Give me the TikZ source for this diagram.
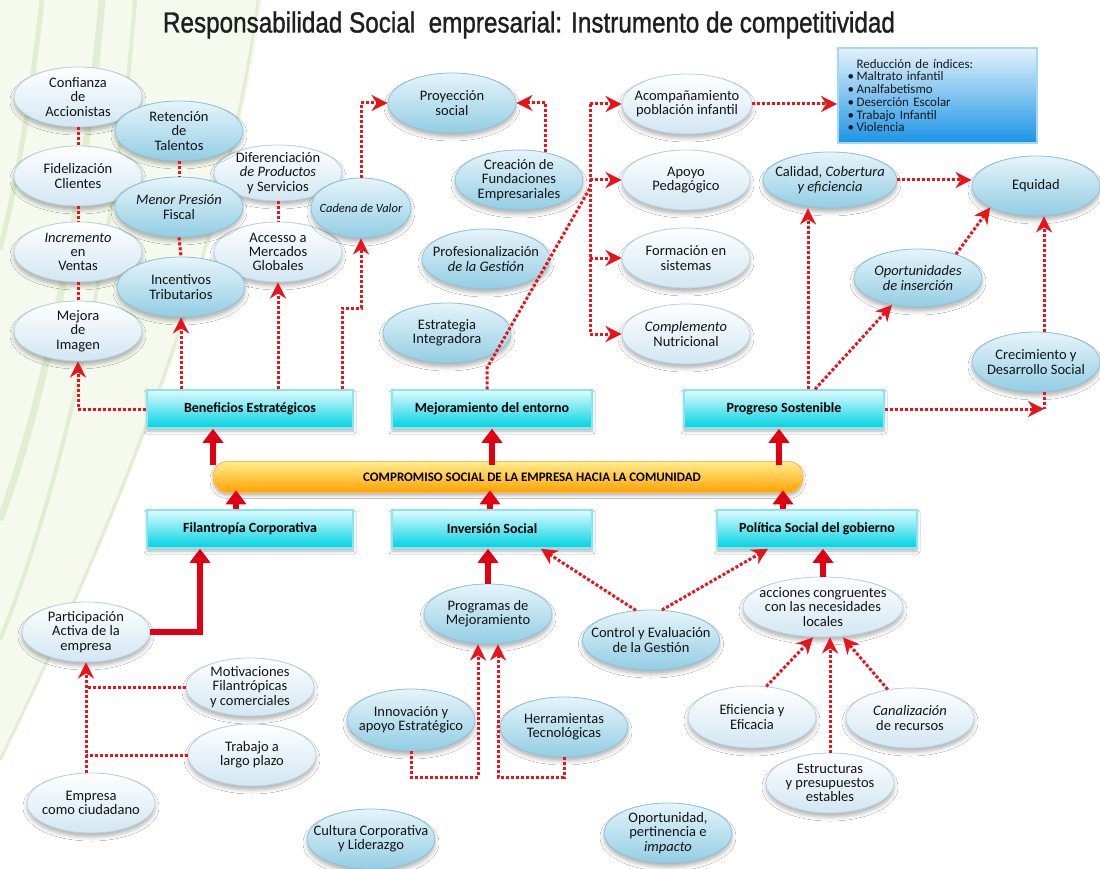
\documentclass[tikz,border=0pt]{standalone}
\usepackage{graphicx}
\usepackage{fontspec}
\setmainfont{Carlito}
\newfontfamily\titlefont[FakeBold=1.2]{Liberation Sans}
\usepackage{tikz}
\usetikzlibrary{arrows.meta,positioning,shapes.geometric,shadows.blur}

\definecolor{dotred}{HTML}{E8141C}
\definecolor{thickred}{HTML}{E00012}
\definecolor{palebot}{HTML}{D2E6F2}
\definecolor{paleedge}{HTML}{B7D4E6}
\definecolor{bluetop}{HTML}{E6F4FA}
\definecolor{bluebot}{HTML}{93CDE4}
\definecolor{blueedge}{HTML}{8CC4DB}
\definecolor{boxtop}{HTML}{DDFBFD}
\definecolor{boxbot}{HTML}{00D2E2}
\definecolor{boxedge}{HTML}{8AE6EE}
\definecolor{bartop}{HTML}{FFED8F}
\definecolor{barmid}{HTML}{FFCB08}
\definecolor{barbot}{HTML}{FFA200}
\definecolor{leafgreen}{HTML}{E2EDD1}
\definecolor{leafbg}{HTML}{F5F9EE}
\definecolor{reductop}{HTML}{E3F2FB}
\definecolor{reducmid}{HTML}{9CD2F3}
\definecolor{reducbot}{HTML}{1B94E6}
\definecolor{reducedge}{HTML}{A6D8F4}

\begin{document}
\begin{tikzpicture}[x=1pt, y=-1pt,
    bubble/.style={ellipse, minimum width=128pt, minimum height=60pt,
      inner xsep=-25pt, inner ysep=-10pt, align=center, text=black!92,
      font=\fontsize{14.5}{14.3}\selectfont, line width=0.8pt,
      blur shadow={shadow xshift=0pt, shadow yshift=-4pt, shadow blur radius=4pt, shadow opacity=30}},
    pale/.style={bubble, draw=paleedge, top color=white, bottom color=palebot},
    bluish/.style={bubble, draw=blueedge, top color=bluetop, bottom color=bluebot},
    stagebox/.style={rectangle, minimum width=200pt, minimum height=38pt,
      draw=boxedge, line width=1.5pt, top color=boxtop, bottom color=boxbot,
      font=\fontsize{14}{16}\selectfont\bfseries,
      blur shadow={shadow xshift=0pt, shadow yshift=-3pt, shadow blur radius=3pt, shadow opacity=30}},
    capsule/.style={rectangle, rounded corners=15pt, minimum width=590pt, minimum height=31pt,
      draw=barbot!70!white, line width=0.8pt, top color=bartop, middle color=barmid, bottom color=barbot,
      font=\fontsize{13}{15}\selectfont\bfseries,
      blur shadow={shadow xshift=0pt, shadow yshift=-3pt, shadow blur radius=3pt, shadow opacity=30}},
    reducbox/.style={rectangle, minimum width=199pt, minimum height=95pt, text width=180pt,
      align=left, draw=reducedge, line width=1.8pt, top color=reductop, middle color=reducmid,
      bottom color=reducbot, text=black!90, font=\fontsize{13}{12.7}\selectfont},
    dotline/.style={dotred, line width=3pt, dash pattern=on 3pt off 2pt},
    dotarrow/.style={dotline, -{Stealth[length=16pt, width=16pt, inset=5pt]}},
    thickarrow/.style={thickred, line width=6.5pt, -{Triangle[length=14pt, width=20pt]}}]

    \useasboundingbox (0,0) rectangle (1100,869);

    % Background
    \fill[white] (0,0) rectangle (1100,869);
    \fill[leafbg] (0,0) -- (262,0) .. controls (230,250) and (120,520) .. (0,760) -- cycle;
    \draw[leafgreen, line width=5pt] (42,0) .. controls (30,110) and (15,190) .. (0,250);
    \draw[leafgreen, line width=7pt] (102,0) .. controls (85,200) and (45,400) .. (0,520);
    \draw[leafgreen, line width=4pt] (135,0) .. controls (118,230) and (65,480) .. (0,640);
    \draw[leafgreen, line width=3pt] (258,0) .. controls (226,250) and (118,520) .. (0,760);

    % Title
    \node[font=\titlefont, text=black!88] (title) at (529,25)
      {\resizebox{732pt}{21pt}{Responsabilidad Social\ \ empresarial: Instrumento de competitividad}};

    % Strategic benefits cluster
    \node[pale] (conf) at (78,97) {Confianza\\de\\Accionistas};
    \node[pale] (fide) at (78,176) {Fidelización\\Clientes};
    \node[pale] (incr) at (78,252) {\textit{Incremento}\\en\\Ventas};
    \node[pale] (mejora) at (78,331) {Mejora\\de\\Imagen};
    \node[pale, minimum height=56pt] (difer) at (278,173) {Diferenciación\\\textit{de Productos}\\y Servicios};
    \node[pale] (acces) at (278,252) {Accesso a\\Mercados\\Globales};
    \node[bluish] (reten) at (179,131) {Retención\\de\\Talentos};
    \node[bluish] (menor) at (179,207) {\textit{Menor Presión}\\Fiscal};
    \node[bluish] (incent) at (181,287) {Incentivos\\Tributarios};
    \node[bluish, minimum width=100pt, font=\fontsize{12.5}{14}\selectfont] (cadena) at (361,208) {\textit{Cadena de Valor}};

    % Environment cluster
    \node[bluish] (proy) at (452,103) {Proyección\\social};
    \node[bluish] (crea) at (519,180) {Creación de\\Fundaciones\\Empresariales};
    \node[bluish] (profe) at (486,259) {Profesionalización\\\textit{de la Gestión}};
    \node[bluish] (estra) at (447,333) {Estrategia\\Integradora};
    \node[pale, minimum width=130pt] (acomp) at (687,104) {Acompañamiento\\población infantil};
    \node[pale] (apoyo) at (686,180) {Apoyo\\Pedagógico};
    \node[pale] (forma) at (686,258) {Formación en\\sistemas};
    \node[pale] (compl) at (686,334) {\textit{Complemento}\\Nutricional};
    \node[reducbox] (reduc) at (937.5,95.5) {\makebox[9pt][l]{}Reducción de índices:\\
      \makebox[9pt][l]{\textbullet}Maltrato infantil\\
      \makebox[9pt][l]{\textbullet}Analfabetismo\\
      \makebox[9pt][l]{\textbullet}Deserción Escolar\\
      \makebox[9pt][l]{\textbullet}Trabajo Infantil\\
      \makebox[9pt][l]{\textbullet}Violencia};

    % Sustainable progress cluster
    \node[bluish, minimum width=134pt, minimum height=56pt] (calid) at (830,180) {Calidad, \textit{Cobertura}\\\textit{y eficiencia}};
    \node[bluish] (equid) at (1036,186) {Equidad};
    \node[bluish, minimum height=58pt] (oport) at (918,278) {\textit{Oportunidades}\\\textit{de inserción}};
    \node[bluish] (crec) at (1036,362) {Crecimiento y\\Desarrollo Social};

    % Stages and commitment bar
    \node[stagebox, minimum width=206pt] (benef) at (250,409) {Beneficios Estratégicos};
    \node[stagebox] (mejent) at (492,409) {Mejoramiento del entorno};
    \node[stagebox] (progreso) at (784,409) {Progreso Sostenible};
    \node[capsule] (comp) at (508,477) {\hspace*{48pt}COMPROMISO SOCIAL DE LA EMPRESA HACIA LA COMUNIDAD};
    \node[stagebox, minimum width=206pt] (filan) at (250,529) {Filantropía Corporativa};
    \node[stagebox] (invsoc) at (492,529) {Inversión Social};
    \node[stagebox] (polsoc) at (817,529) {Política Social del gobierno};

    % Lower clusters
    \node[pale] (partic) at (86,632) {Participación\\Activa de la\\empresa};
    \node[pale, minimum height=58pt] (motiv) at (250,687) {Motivaciones\\Filantrópicas\\y comerciales};
    \node[pale, minimum height=62pt] (trabajo) at (252,755) {Trabajo a\\largo plazo};
    \node[pale] (empresa) at (91,803) {Empresa\\como ciudadano};
    \node[bluish] (prog) at (488,614) {Programas de\\Mejoramiento};
    \node[bluish, minimum height=62pt] (innov) at (411,720) {Innovación y\\apoyo Estratégico};
    \node[bluish] (herr) at (564,727) {Herramientas\\Tecnológicas};
    \node[bluish, minimum width=137pt] (control) at (651,640) {Control y Evaluación\\de la Gestión};
    \node[bluish] (cultura) at (371,839) {Cultura Corporativa\\y Liderazgo};
    \node[bluish] (oportun) at (668,833) {Oportunidad,\\pertinencia e\\\textit{impacto}};
    \node[pale, minimum width=160pt] (accion) at (823,607) {acciones congruentes\\con las necesidades\\locales};
    \node[pale, minimum height=62pt] (efic) at (752,717) {Eficiencia y\\Eficacia};
    \node[pale] (canal) at (910,718) {\textit{Canalización}\\de recursos};
    \node[pale] (estruc) at (830,783) {Estructuras\\y presupuestos\\estables};

    % Bend points
    \coordinate (cadbend) at (342,308);
    \coordinate (mejbend) at (487,368);
    \coordinate (busjoin) at (590,188);
    \coordinate (crecfoot) at (1044,409);

    % Dotted links inside the benefit cluster
    \draw[dotline] (conf.south) -- (fide.north);
    \draw[dotline] (fide.south) -- (incr.north);
    \draw[dotline] (incr.south) -- (mejora.north);
    \draw[dotline] (reten.south) -- (menor.north);
    \draw[dotline] (menor.south) -- (incent.north);
    \draw[dotline] (difer.south) -- (acces.north);

    % Benefits
    \draw[dotarrow] (benef.west) -| (mejora.south);
    \draw[dotarrow] (benef.north -| incent.south) -- (incent.south);
    \draw[dotarrow] (benef.north -| acces.south) -- (acces.south);
    \draw[dotarrow] (benef.north -| cadbend) -- (cadbend) -| (cadena.south);
    \draw[dotarrow] (cadena.north) |- (proy.west);
    \draw[dotarrow] (crea.46) |- (proy.east);

    % Environment
    \draw[dotline] (mejent.north -| mejbend) -- (mejbend) -- (busjoin);
    \draw[dotline] (acomp.west -| busjoin) -- (compl.west -| busjoin);
    \draw[dotarrow] (acomp.west -| busjoin) -- (acomp.west);
    \draw[dotarrow] (apoyo.west -| busjoin) -- (apoyo.west);
    \draw[dotarrow] (forma.west -| busjoin) -- (forma.west);
    \draw[dotarrow] (compl.west -| busjoin) -- (compl.west);
    \draw[dotarrow] (acomp.east) -- (acomp.east -| reduc.west);

    % Sustainable progress
    \draw[dotarrow] ([xshift=24pt]progreso.north) -- ([xshift=-22pt]calid.south);
    \draw[dotarrow] ([xshift=31pt]progreso.north) -- (oport.-134);
    \draw[dotarrow] (calid.east) -- (calid.east -| equid.west);
    \draw[dotarrow] (oport.32) -- (equid.-155);
    \draw[dotarrow] ([xshift=8pt]crec.north) -- ([xshift=8pt]equid.south);
    \draw[dotline] ([xshift=8pt]crec.south) -- (crecfoot);
    \draw[dotarrow] (progreso.east) -- (crecfoot);

    % Thick arrows around the commitment bar
    \draw[thickarrow] ([xshift=-37pt,yshift=-36pt]benef.south) -- ([xshift=-37pt]benef.south);
    \draw[thickarrow] ([yshift=-36pt]mejent.south) -- (mejent.south);
    \draw[thickarrow] ([xshift=-5pt,yshift=-36pt]progreso.south) -- ([xshift=-5pt]progreso.south);
    \draw[thickarrow] ([xshift=-14pt]filan.north) -- ([xshift=-14pt,yshift=19pt]filan.north);
    \draw[thickarrow] ([xshift=-2pt]invsoc.north) -- ([xshift=-2pt,yshift=19pt]invsoc.north);
    \draw[thickarrow] ([xshift=-34pt]polsoc.north) -- ([xshift=-34pt,yshift=19pt]polsoc.north);

    % Philanthropy
    \draw[thickarrow] (partic.east) -| ([xshift=-50pt]filan.south);
    \draw[dotarrow] (empresa.north -| partic.south) -- (partic.south);
    \draw[dotline] (motiv.west) -- (motiv.west -| partic.south);
    \draw[dotline] (trabajo.west) -- (trabajo.west -| partic.south);

    % Social investment
    \draw[thickarrow] (prog.north) -- (prog.north |- invsoc.south);
    \draw[dotarrow] (innov.south) -- ++(0,26) -| ([xshift=-10pt]prog.south);
    \draw[dotarrow] (herr.south) -- ++(0,20) -| ([xshift=10pt]prog.south);
    \draw[dotarrow] (control.117) -- (invsoc.-22);
    \draw[dotarrow] (control.70) -- (polsoc.-158);

    % Government policy
    \draw[thickarrow] (accion.north) -- (accion.north |- polsoc.south);
    \draw[dotarrow] (efic.65) -- ([xshift=-10pt]accion.south);
    \draw[dotarrow] (estruc.north) -- (estruc.north |- accion.south);
    \draw[dotarrow] (canal.128) -- ([xshift=20pt]accion.south);
\end{tikzpicture}
\end{document}
